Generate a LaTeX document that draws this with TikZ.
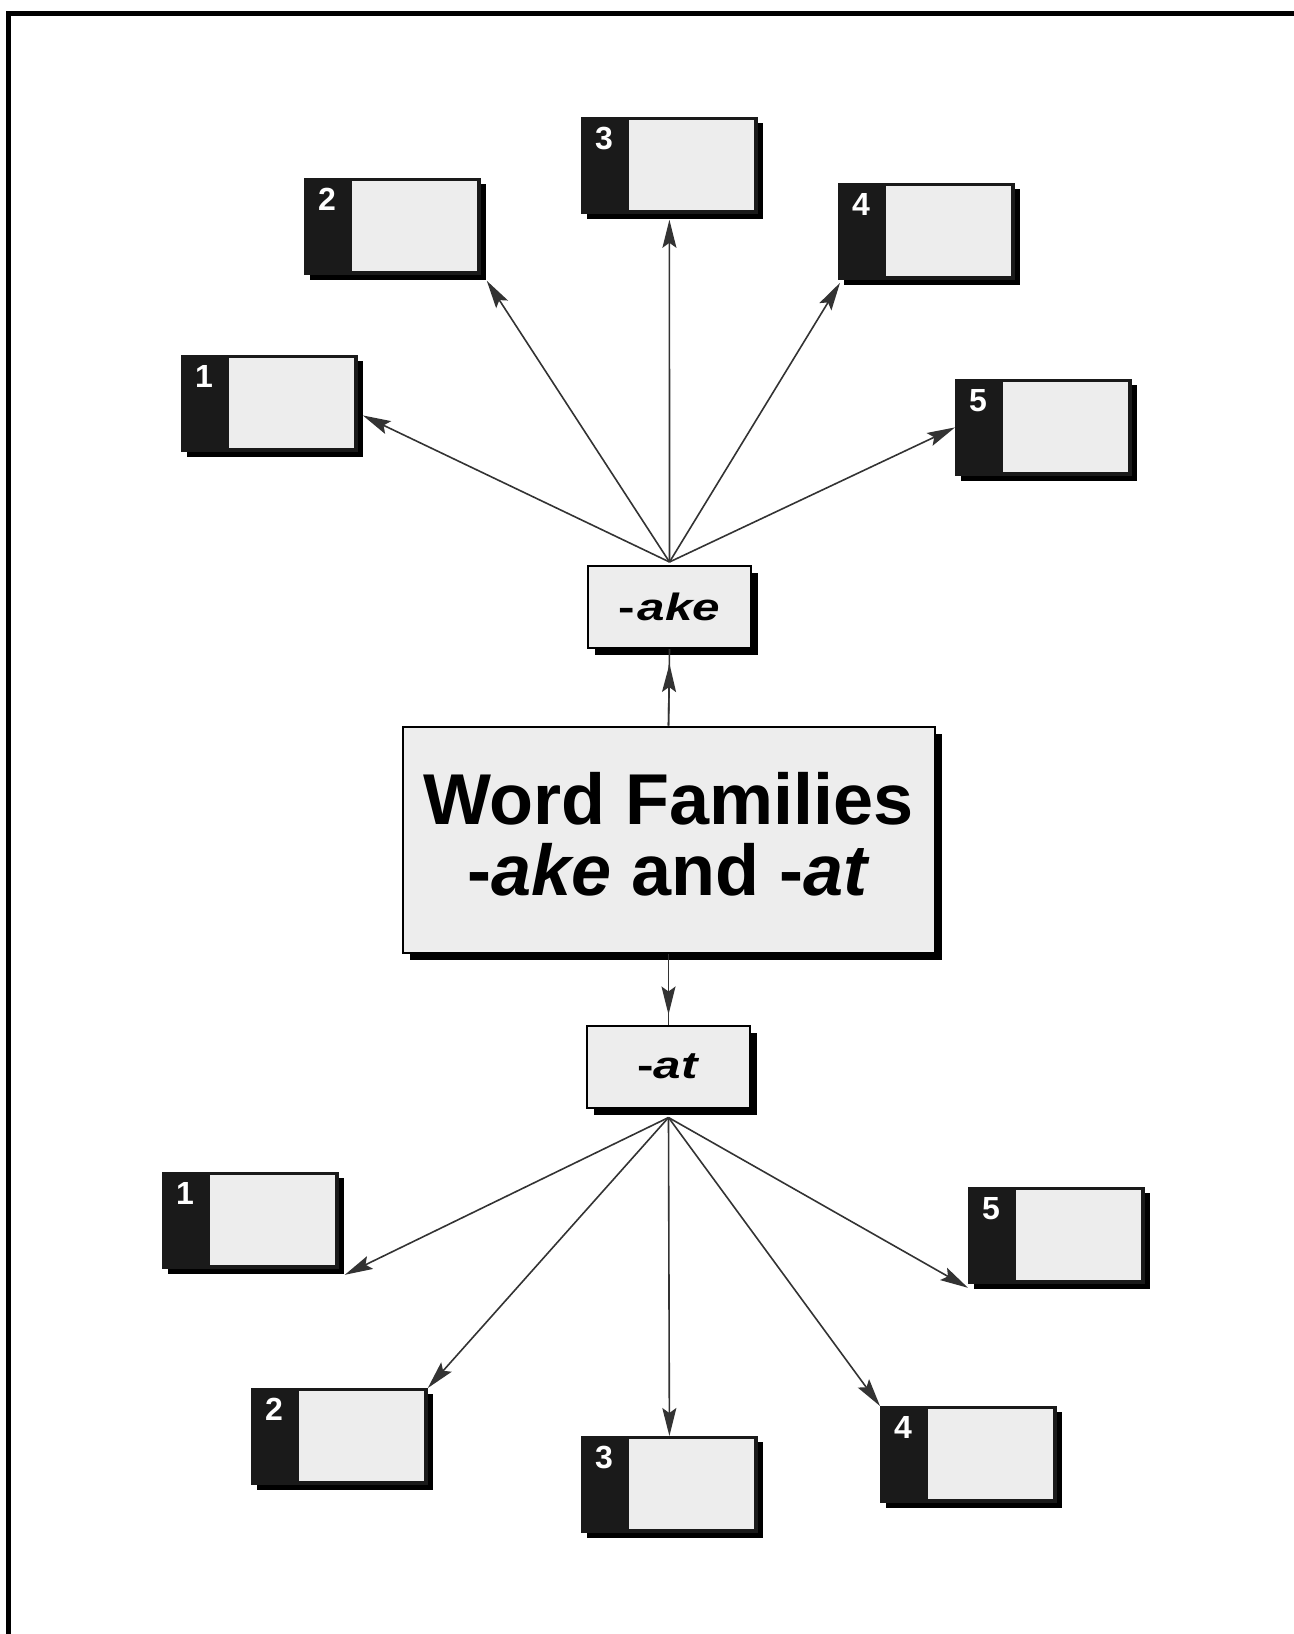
\documentclass[tikz,border=0pt]{standalone}
\usepackage{fontspec}
\setmainfont{Liberation Sans}
\usepackage{graphicx}
\usetikzlibrary{arrows.meta,shadows}
\definecolor{boxfill}{HTML}{EDEDED}
\definecolor{stripblack}{HTML}{1A1A1A}
\definecolor{linegray}{HTML}{333333}
\tikzset{
  wbox/.style={rectangle, anchor=north west, fill=stripblack, draw=stripblack,
    line width=0.4pt, minimum width=88pt, minimum height=48pt, inner sep=0pt,
    drop shadow={shadow xshift=3pt, shadow yshift=-3pt, fill=black, opacity=1},
    path picture={\fill[boxfill] ([xshift=24pt,yshift=-1.5pt]path picture bounding box.north west)
      rectangle ([xshift=-1.5pt,yshift=1.5pt]path picture bounding box.south east);}},
  numlbl/.style={anchor=base, text=white, font=\bfseries\fontsize{16}{16}\selectfont, inner sep=0pt},
  suffbox/.style={rectangle, fill=boxfill, draw=black, line width=1pt,
    minimum width=81.5pt, minimum height=41pt, inner sep=0pt,
    drop shadow={shadow xshift=3.5pt, shadow yshift=-3.5pt, fill=black, opacity=1},
    font=\bfseries\fontsize{19}{19}\selectfont},
  mainbox/.style={rectangle, fill=boxfill, draw=black, line width=1pt,
    minimum width=266pt, minimum height=113pt, inner sep=0pt,
    drop shadow={shadow xshift=3.5pt, shadow yshift=-3.5pt, fill=black, opacity=1},
    font=\bfseries\fontsize{36}{35.5}\selectfont, align=center, text depth=6pt},
  arr/.style={draw=linegray, line width=0.8pt, -{Stealth[length=14pt,width=7pt,inset=2.5pt]}},
  plainline/.style={draw=linegray, line width=0.8pt},
  frameline/.style={draw=black, line width=2.6pt}
}
\begin{document}
\begin{tikzpicture}[x=0.5pt,y=-0.5pt]
\useasboundingbox (0,0) rectangle (1294,1634);
% partial outer frame
\coordinate (fbl) at (8.5,1640);
\coordinate (ftl) at (8.5,13.5);
\coordinate (ftr) at (1300,13.5);
\draw[frameline] (fbl) -- (ftl) -- (ftr);

% central nodes
\node[mainbox] (main) at (668.5,839.5) {Word Families\\-\textit{ake} and -\textit{at}};
\node[suffbox] (ake) at (669.5,607) {\scalebox{1.3}[1]{-\kern1pt\textit{ake}}};
\node[suffbox] (at) at (668.5,1066.5) {\scalebox{1.3}[1]{-\textit{at}}};

% top boxes
\node[wbox] (t1) at (181,355) {};
\node[wbox] (t2) at (304,178) {};
\node[wbox] (t3) at (581,117) {};
\node[wbox] (t4) at (838,183) {};
\node[wbox] (t5) at (955,379) {};
% bottom boxes
\node[wbox] (b1) at (162,1172) {};
\node[wbox] (b2) at (251,1388) {};
\node[wbox] (b3) at (581,1436) {};
\node[wbox] (b4) at (880,1406) {};
\node[wbox] (b5) at (968,1187) {};

% numbers
\foreach \b/\n in {t1/1,t2/2,t3/3,t4/4,t5/5,b1/1,b2/2,b3/3,b4/4,b5/5}{
  \node[numlbl] (\b n) at ([xshift=11.5pt,yshift=-16pt]\b.north west) {\n};
}

% vertical connectors
\draw[plainline] (main.north) -- (ake.south);
\draw[arr] (main.north) -- ([yshift=-7.5pt]ake.south);
\draw[plainline] (main.south) -- (at.north);
\draw[arr] (main.south) -- ([yshift=5pt]at.north);

% top fan
\draw[arr] ([yshift=1.5pt]ake.north) -- ([xshift=2.5pt,yshift=-6pt]t1.east);
\draw[arr] ([yshift=1.5pt]ake.north) -- ([xshift=3pt,yshift=-3pt]t2.south east);
\draw[arr] ([yshift=1.5pt]ake.north) -- ([yshift=-3pt]t3.south);
\draw[arr] ([yshift=1.5pt]ake.north) -- ([xshift=1pt,yshift=-1.5pt]t4.south west);
\draw[arr] ([yshift=1.5pt]ake.north) -- (t5.west);

% bottom fan
\draw[arr] ([yshift=-4.5pt]at.south) -- ([xshift=3pt,yshift=-3pt]b1.south east);
\draw[arr] ([yshift=-4.5pt]at.south) -- (b2.north east);
\draw[arr] ([yshift=-4.5pt]at.south) -- (b3.north);
\draw[arr] ([yshift=-4.5pt]at.south) -- (b4.north west);
\draw[arr] ([yshift=-4.5pt]at.south) -- ([xshift=0pt,yshift=-2pt]b5.south west);
\end{tikzpicture}
\end{document}
